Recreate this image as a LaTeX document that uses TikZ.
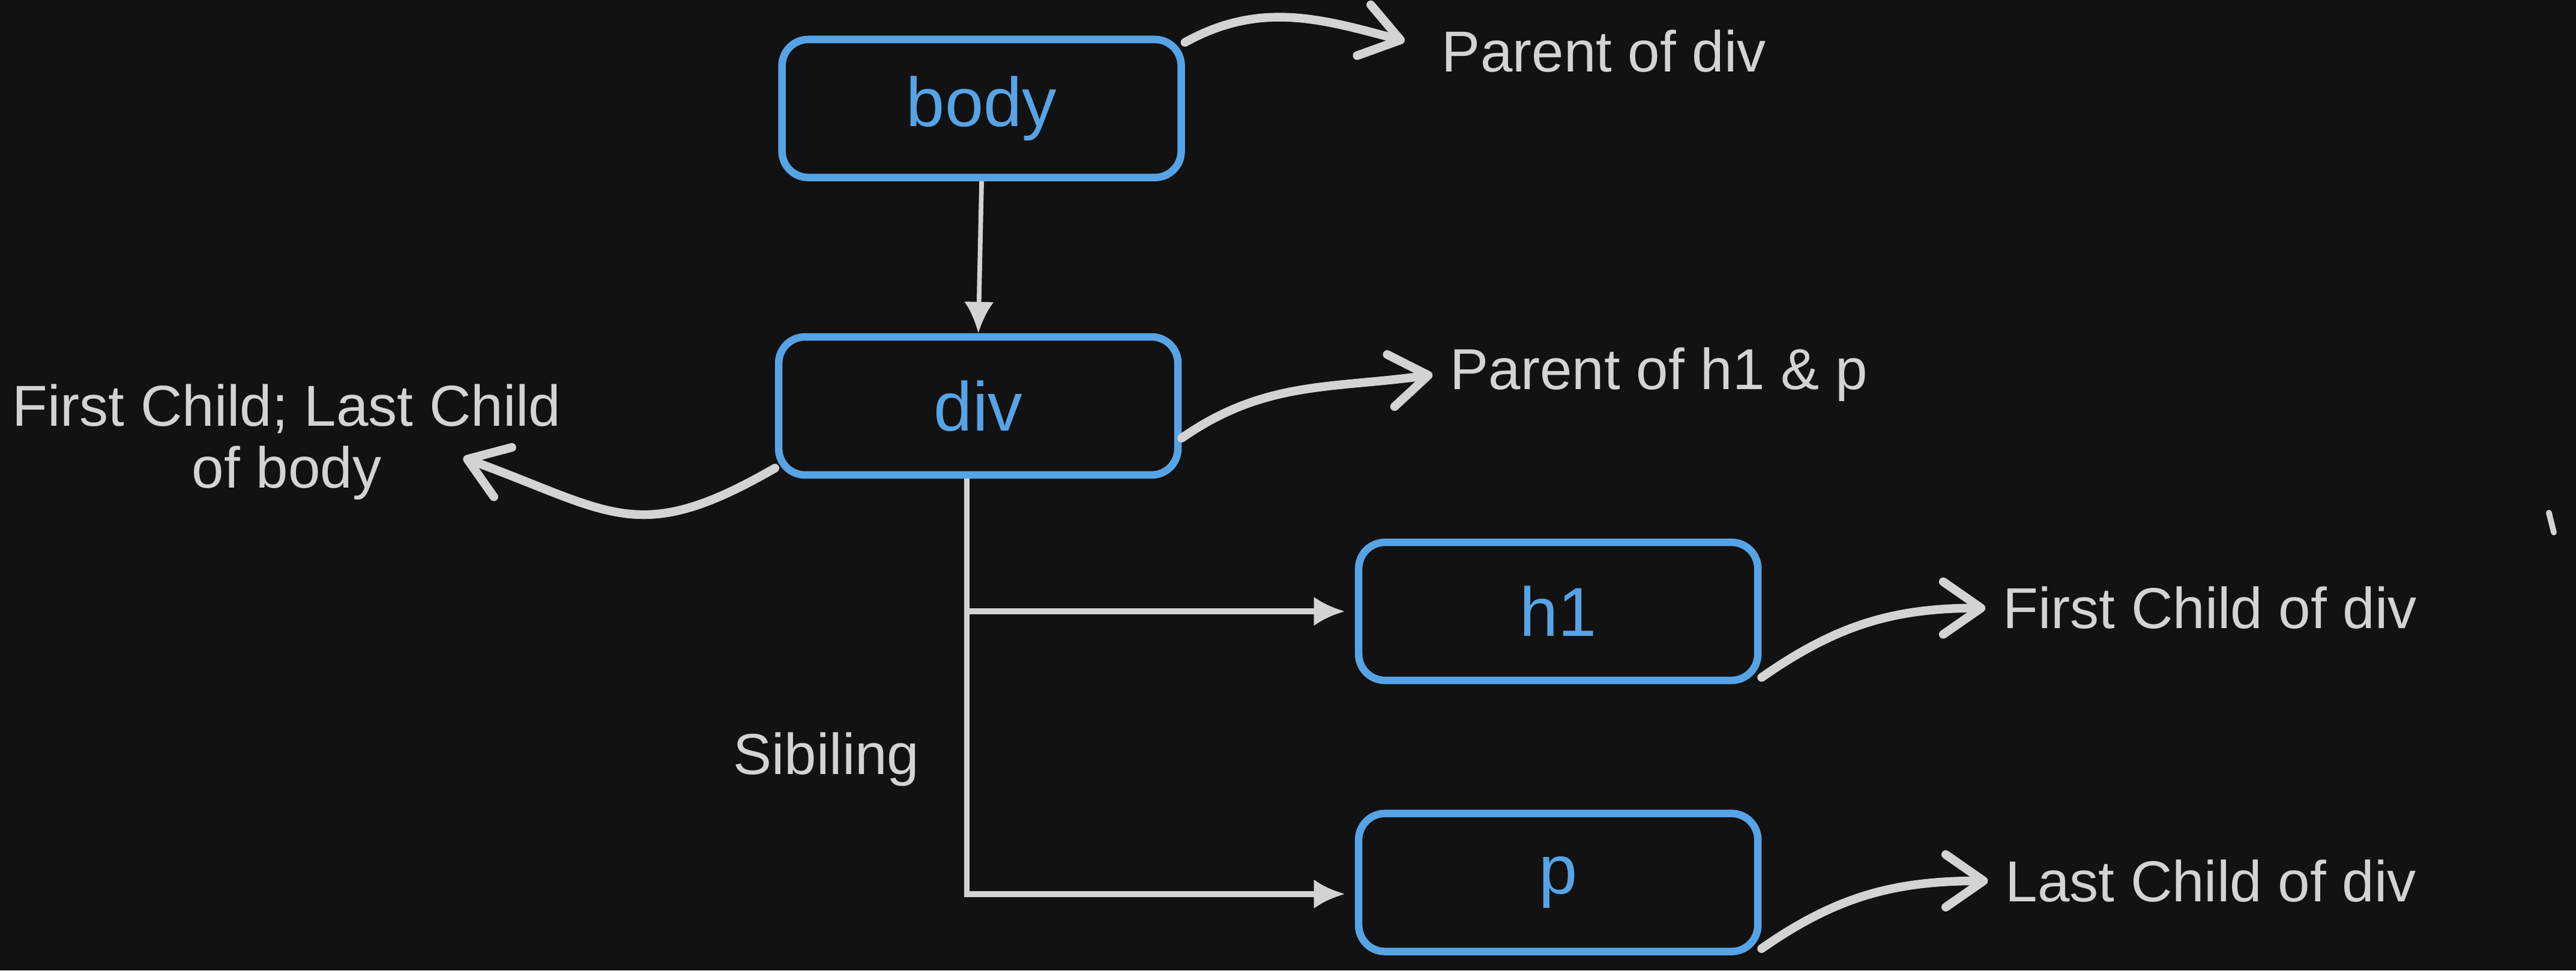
\documentclass[tikz,border=0pt]{standalone}
\usepackage{fontspec}
\setmainfont{Liberation Sans}
\usetikzlibrary{arrows.meta}
\definecolor{bgc}{HTML}{121212}
\definecolor{boxblue}{HTML}{56A3E6}
\definecolor{linegray}{HTML}{D3D3D3}

\begin{document}
\begin{tikzpicture}[node distance=18.1mm,
  box/.style = {draw=boxblue, line width=1.3pt, rounded corners=1.6mm, minimum width=24.3mm, minimum height=8.4mm, inner sep=0pt, text=boxblue, font=\fontsize{12}{14}\selectfont},
  lbl/.style = {text=linegray, font=\fontsize{10}{10.7}\selectfont, inner sep=1mm},
  tree/.style = {draw=linegray, line width=1pt, -{Latex[length=1.9mm, width=1.8mm]}},
  curvy/.style = {draw=linegray, line width=1.5pt, line cap=round, -{Straight Barb[length=2.3mm, width=3.2mm, round]}}]
\path[use as bounding box, fill=bgc] (-59.75mm,6.6mm) rectangle (97.05mm,-52.45mm);
\node[box] (body) {body};
\node[box] (div) [below of = body, xshift=-0.2mm] {div};
\node[box] (h1) [node distance=12.5mm, below of = div, xshift=35.3mm] {h1};
\node[box] (p) [node distance=16.5mm, below of = h1] {p};
\node[lbl, anchor=west] (pd) at (26.95mm,3.5mm) {Parent of div};
\node[lbl, anchor=west] (ph) at (27.45mm,-16.2mm) {Parent of h1 \& p};
\node[lbl, anchor=west] (fc) at (61.1mm,-30.4mm) {First Child of div};
\node[lbl, anchor=west] (lc) at (61.25mm,-47mm) {Last Child of div};
\node[lbl, align=center] (fl) at (-42.3mm,-20.3mm) {First Child; Last Child\\of body};
\node[lbl] (sib) at (-9.45mm,-39.6mm) {Sibiling};
\coordinate (fltip) at (-31.55mm,-21.25mm);
\draw[tree, line width=0.8pt] (body.south) -- (div.north);
\draw[tree] ([xshift=-0.7mm]div.south) |- ([xshift=-0.6mm]h1.west);
\draw[tree] ([xshift=-0.7mm]div.south) |- ([xshift=-0.6mm, yshift=-0.7mm]p.west);
\draw[curvy] (body.18) to[out=29, in=165] ([xshift=-1.2mm, yshift=0.6mm]pd.west);
\draw[curvy] (div.-9) to[out=35, in=188] (ph.west);
\draw[curvy] (div.197) to[out=210, in=-20, looseness=1.3] (fltip);
\draw[curvy] (h1.-18) to[out=35, in=180] (fc.west);
\draw[curvy] (p.-18) to[out=35, in=180] (lc.west);
\draw[linegray, line width=1pt, line cap=round] (95.4mm,-24.6mm) -- (95.7mm,-25.8mm);
\end{tikzpicture}
\end{document}
